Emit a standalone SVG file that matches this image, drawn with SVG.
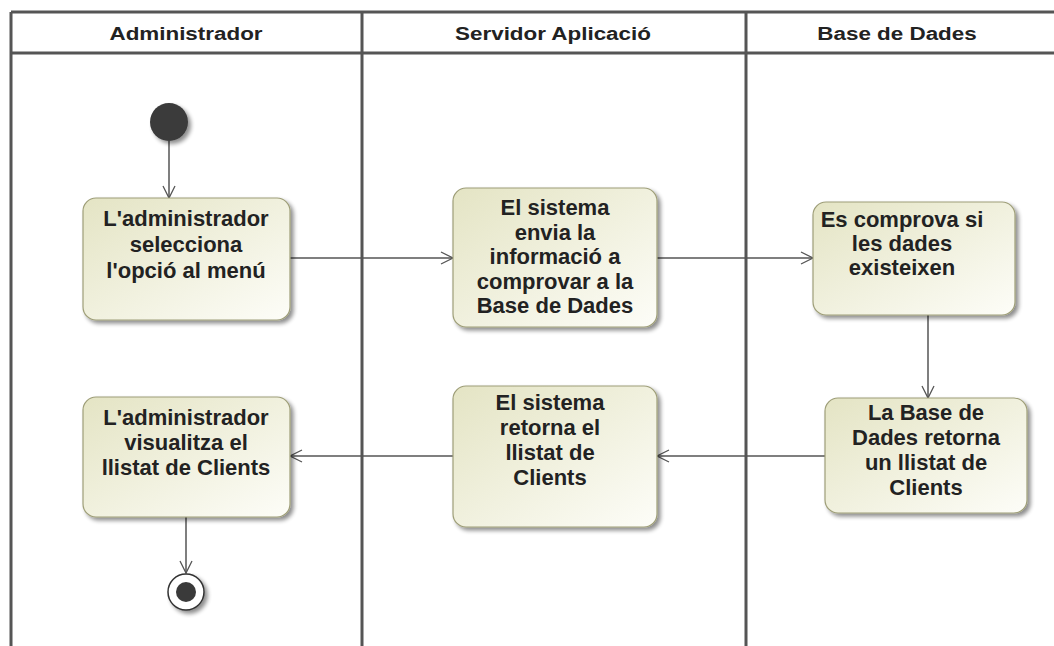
<svg xmlns="http://www.w3.org/2000/svg" width="1054" height="646" viewBox="0 0 1054 646">
<defs>
<linearGradient id="g" x1="0" y1="0" x2="1" y2="1">
<stop offset="0" stop-color="#e4e4c4"/>
<stop offset="1" stop-color="#fdfdf8"/>
</linearGradient>
<filter id="sh" x="-10%" y="-10%" width="130%" height="130%">
<feGaussianBlur in="SourceAlpha" stdDeviation="2.2"/>
<feOffset dx="3" dy="3" result="b"/>
<feComponentTransfer><feFuncA type="linear" slope="0.45"/></feComponentTransfer>
<feMerge><feMergeNode/><feMergeNode in="SourceGraphic"/></feMerge>
</filter>
<marker id="ah" markerWidth="16" markerHeight="16" refX="14" refY="8" orient="auto" markerUnits="userSpaceOnUse">
<path d="M2,2 L14,8 L2,14" fill="none" stroke="#555" stroke-width="1.3"/>
</marker>
<style>
.lane{stroke:#555;stroke-width:3;fill:none}
.hd{font-family:"Liberation Sans",Arial,sans-serif;font-size:19px;font-weight:bold;fill:#222;text-anchor:middle}
.box{fill:url(#g);stroke:#9e9e78;stroke-width:1.2;filter:url(#sh)}
.tx{font-family:"Liberation Sans",Arial,sans-serif;font-size:22px;font-weight:bold;fill:#222;text-anchor:middle}
.cn{stroke:#555;stroke-width:1.5;fill:none;marker-end:url(#ah)}
</style>
</defs>
<rect width="1054" height="646" fill="#fff"/>
<g id="lanes">
<line class="lane" x1="11" y1="12" x2="1054" y2="12"/>
<line class="lane" x1="11" y1="53" x2="1054" y2="53"/>
<line class="lane" x1="11" y1="12" x2="11" y2="646"/>
<line class="lane" x1="362" y1="12" x2="362" y2="646"/>
<line class="lane" x1="746" y1="12" x2="746" y2="646"/>
<text class="hd" transform="translate(186,40) scale(1.18,1)">Administrador</text>
<text class="hd" transform="translate(553,40) scale(1.18,1)">Servidor Aplicació</text>
<text class="hd" transform="translate(897,40) scale(1.18,1)">Base de Dades</text>
</g>
<g id="connectors">
<line class="cn" x1="169" y1="141" x2="169" y2="198"/>
<line class="cn" x1="290" y1="258" x2="453" y2="258"/>
<line class="cn" x1="657" y1="258" x2="813" y2="258"/>
<line class="cn" x1="928" y1="315" x2="928" y2="398"/>
<line class="cn" x1="825" y1="456" x2="657" y2="456"/>
<line class="cn" x1="453" y1="456" x2="290" y2="456"/>
<line class="cn" x1="186" y1="517" x2="186" y2="573"/>
</g>
<g id="start">
<circle cx="169" cy="122" r="19" fill="#3a3a3a" filter="url(#sh)"/>
</g>
<g id="n1">
<rect class="box" x="83" y="198" width="207" height="122" rx="13"/>
<text class="tx" x="186" y="226">L'administrador</text>
<text class="tx" x="186" y="252">selecciona</text>
<text class="tx" x="186" y="278">l'opció al menú</text>
</g>
<g id="n2">
<rect class="box" x="453" y="188" width="204" height="139" rx="13"/>
<text class="tx" x="555" y="215">El sistema</text>
<text class="tx" x="555" y="239.5">envia la</text>
<text class="tx" x="555" y="264">informació a</text>
<text class="tx" x="555" y="288.5">comprovar a la</text>
<text class="tx" x="555" y="313">Base de Dades</text>
</g>
<g id="n3">
<rect class="box" x="813" y="202" width="202" height="113" rx="13"/>
<text class="tx" x="902" y="227">Es comprova si</text>
<text class="tx" x="902" y="251">les dades</text>
<text class="tx" x="902" y="275">existeixen</text>
</g>
<g id="n4">
<rect class="box" x="825" y="398" width="202" height="115" rx="13"/>
<text class="tx" x="926" y="420">La Base de</text>
<text class="tx" x="926" y="445">Dades retorna</text>
<text class="tx" x="926" y="470">un llistat de</text>
<text class="tx" x="926" y="495">Clients</text>
</g>
<g id="n5">
<rect class="box" x="453" y="386" width="204" height="141" rx="13"/>
<text class="tx" x="550" y="410">El sistema</text>
<text class="tx" x="550" y="435">retorna el</text>
<text class="tx" x="550" y="460">llistat de</text>
<text class="tx" x="550" y="485">Clients</text>
</g>
<g id="n6">
<rect class="box" x="83" y="397" width="207" height="120" rx="13"/>
<text class="tx" x="186" y="425">L'administrador</text>
<text class="tx" x="186" y="450">visualitza el</text>
<text class="tx" x="186" y="475">llistat de Clients</text>
</g>
<g id="end">
<circle cx="186" cy="592" r="18" fill="#fff" stroke="#333" stroke-width="1.5" filter="url(#sh)"/>
<circle cx="186" cy="592" r="10" fill="#3a3a3a"/>
</g>
</svg>
